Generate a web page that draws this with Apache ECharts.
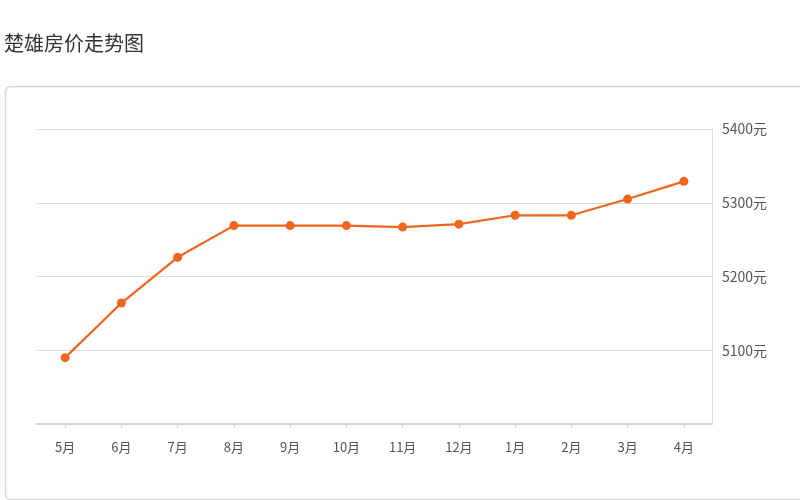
<!DOCTYPE html>
<html>
<head>
<meta charset="utf-8">
<script src="https://cdn.jsdelivr.net/npm/echarts@6/dist/echarts.min.js"></script>
<style>html,body{margin:0;padding:0;background:#fff;}#c{width:800px;height:500px;}</style>
</head>
<body>
<div id="c"></div>
<script>
var titleText = '楚雄房价走势图';
var months = ['5月','6月','7月','8月','9月','10月','11月','12月','1月','2月','3月','4月'];
var prices = [5090, 5164, 5226, 5269, 5269, 5269, 5267, 5271, 5283, 5283, 5305, 5329];
var yMin = 5000, yMax = 5400, yStep = 100;
var unit = '元';

var chart = echarts.init(document.getElementById('c'), null, {renderer: 'canvas'});
var font = '"Noto Sans CJK SC", "Microsoft YaHei", sans-serif';
chart.setOption({
  backgroundColor: '#fff',
  animation: false,
  textStyle: {fontFamily: font},
  title: {
    text: titleText, left: -1, top: 28,
    textStyle: {fontSize: 20, fontWeight: 'normal', color: '#333', fontFamily: font}
  },
  graphic: [{
    type: 'rect', left: 3, top: 84, silent: true,
    shape: {width: 810, height: 413, r: 5},
    style: {fill: 'none', stroke: '#d8d8d8', lineWidth: 1.5}
  }],
  grid: {left: 37, right: 88, top: 129, bottom: 76},
  xAxis: {
    type: 'category', data: months, boundaryGap: true,
    axisLine: {show: true, lineStyle: {color: '#d4d4d4', width: 2}},
    axisTick: {show: true, alignWithLabel: true, length: 4, lineStyle: {color: '#d4d4d4'}},
    axisLabel: {color: '#555', fontSize: 13, margin: 17, fontFamily: font},
    splitLine: {show: false}
  },
  yAxis: {
    type: 'value', position: 'right', min: yMin, max: yMax, interval: yStep,
    axisLine: {show: true, lineStyle: {color: '#dddddd', width: 1}},
    axisTick: {show: false},
    axisLabel: {
      color: '#555', fontSize: 14, margin: 10, fontFamily: font, showMinLabel: false,
      formatter: function (v) { return v + unit; }
    },
    splitLine: {show: true, lineStyle: {color: '#dddddd', width: 1}}
  },
  series: [{
    type: 'line', data: prices,
    symbol: 'circle', symbolSize: 9,
    lineStyle: {color: '#f0661c', width: 2.2},
    itemStyle: {color: '#f0661c'}
  }]
});
</script>
</body>
</html>
